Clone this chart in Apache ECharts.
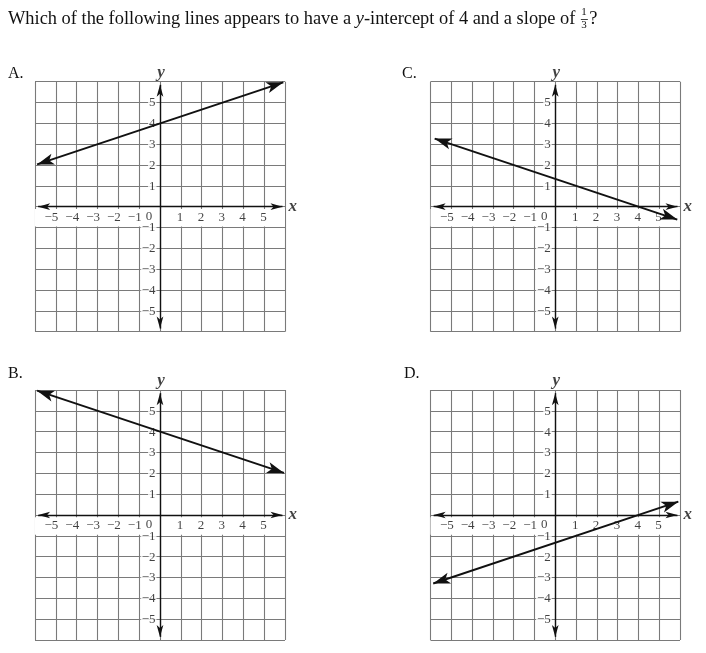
<!DOCTYPE html>
<html><head><meta charset="utf-8">
<script src="https://cdn.jsdelivr.net/npm/echarts@6/dist/echarts.min.js"></script>
<style>html,body{margin:0;padding:0;background:#fff}#c{width:706px;height:653px}</style>
</head><body><div id="c"></div>
<script>
// ---- data ----
const questionPre = 'Which of the following lines appears to have a ';
const questionVar = 'y';
const questionPost = '-intercept of 4 and a slope of';
const fracNum = '1', fracDen = '3';
const panelLabels = ['A.', 'B.', 'C.', 'D.'];
const xTickLabels = [-5, -4, -3, -2, -1, 1, 2, 3, 4, 5];
const yTickLabels = [5, 4, 3, 2, 1, -1, -2, -3, -4, -5];
const originLabel = '0';
const axisMin = -6, axisMax = 6, axisStep = 1;
// arrow tips of each plotted line [x, y]
const lineA = [[-5.9, 2.03], [5.92, 5.97]];
const lineB = [[-5.9, 5.97], [5.95, 2.02]];
const lineC = [[-5.8, 3.27], [5.87, -0.62]];
const lineD = [[-5.87, -3.29], [5.92, 0.64]];
// arrow tips of the drawn axes
const xAxisTips = [[-5.85, 0], [5.88, 0]];
const yAxisTips = [[0, -5.85], [0, 5.85]];

// ---- layout ----
const FONT = "'Liberation Serif','Times New Roman',serif";
const panelLines = [lineA, lineB, lineC, lineD];
const grids = [
  {left: 35, top: 81.7, width: 250, height: 250},
  {left: 35, top: 390, width: 250, height: 250},
  {left: 430.5, top: 81.7, width: 249.5, height: 250},
  {left: 430.5, top: 390, width: 249.5, height: 250}
];
const letterPos = [[8, 66], [8, 366], [402, 66], [404, 366]];
const fmt = v => (v < 0 ? '\u2212' + Math.abs(v) : String(v));
const AX_ARROW = [5, 12], LN_ARROW = [8.5, 17];
const seg = (p, q, size) => [{coord: p, symbol: 'arrow', symbolSize: size}, {coord: q, symbol: 'arrow', symbolSize: size}];

const chart = echarts.init(document.getElementById('c'), null, {renderer: 'canvas'});

const xAxes = [], yAxes = [], series = [];
grids.forEach((g, i) => {
  const ax = {
    gridIndex: i, type: 'value', min: axisMin, max: axisMax, interval: axisStep,
    axisLine: {show: false}, axisTick: {show: false}, axisLabel: {show: false},
    splitLine: {show: true, showMinLine: true, showMaxLine: true, lineStyle: {color: '#7a7a7a', width: 1.1}}
  };
  xAxes.push(Object.assign({}, ax));
  yAxes.push(Object.assign({}, ax));
  // white band behind x tick labels
  series.push({
    type: 'line', xAxisIndex: i, yAxisIndex: i, data: [], silent: true, z: 1, animation: false,
    markArea: {silent: true, animation: false, itemStyle: {color: '#ffffff'},
      data: [[{coord: [axisMin, -0.11]}, {coord: [axisMax, -0.95]}]]}
  });
  // axes with arrows
  series.push({
    type: 'line', xAxisIndex: i, yAxisIndex: i, data: [], silent: true, z: 3, animation: false,
    markLine: {
      silent: true, animation: false, symbol: 'arrow', symbolSize: 10,
      label: {show: false}, emphasis: {disabled: true},
      itemStyle: {color: '#111'},
      lineStyle: {color: '#111', width: 1.4, type: 'solid'},
      data: [seg(xAxisTips[0], xAxisTips[1], AX_ARROW), seg(yAxisTips[0], yAxisTips[1], AX_ARROW)]
    }
  });
  // tick labels
  const base = {show: true, position: 'inside', fontFamily: FONT, fontSize: 13, color: '#111'};
  const data = [];
  xTickLabels.forEach(v => data.push({value: [v, 0], label: Object.assign({}, base, {
    formatter: fmt(v), align: 'right', verticalAlign: 'middle', offset: [2.5, 11]})}));
  yTickLabels.forEach(v => data.push({value: [0, v], label: Object.assign({}, base, {
    formatter: fmt(v), align: 'right', verticalAlign: 'middle', offset: [-3.5, 0.5],
    backgroundColor: '#ffffff', padding: [0, 1]})}));
  data.push({value: [0, 0], label: Object.assign({}, base, {
    formatter: originLabel, align: 'center', verticalAlign: 'middle', offset: [-11, 9.5]})});
  data.push({value: [axisMax, 0], label: Object.assign({}, base, {
    formatter: 'x', fontSize: 17, fontStyle: 'italic', fontWeight: 'bold',
    align: 'left', verticalAlign: 'middle', offset: [3.5, 0]})});
  data.push({value: [0, axisMax], label: Object.assign({}, base, {
    formatter: 'y', fontSize: 17, fontStyle: 'italic', fontWeight: 'bold',
    align: 'center', verticalAlign: 'middle', offset: [1, -9]})});
  series.push({
    type: 'scatter', xAxisIndex: i, yAxisIndex: i, silent: true, z: 4, clip: false,
    symbolSize: 0, animation: false, data: data
  });
  // the plotted line
  const ln = panelLines[i];
  series.push({
    type: 'line', xAxisIndex: i, yAxisIndex: i, data: [], silent: true, z: 5, animation: false,
    markLine: {
      silent: true, animation: false, symbol: 'arrow', symbolSize: 10,
      label: {show: false}, emphasis: {disabled: true},
      itemStyle: {color: '#111'},
      lineStyle: {color: '#111', width: 2, type: 'solid'},
      data: [seg(ln[0], ln[1], LN_ARROW)]
    }
  });
});

// measure title to place the stacked fraction
const cv = document.createElement('canvas').getContext('2d');
const TS = 18.4;
cv.font = TS + 'px ' + FONT;
let w = cv.measureText(questionPre).width + cv.measureText(questionPost).width;
cv.font = 'italic ' + TS + 'px ' + FONT;
w += cv.measureText(questionVar).width;
const titleLeft = 8, titleTop = 10;
const fx = titleLeft + w + 6;

const titles = [{
  left: titleLeft, top: titleTop, padding: 0,
  text: questionPre + '{i|' + questionVar + '}' + questionPost,
  textStyle: {fontFamily: FONT, fontSize: TS, fontWeight: 'normal', color: '#111',
    rich: {i: {fontFamily: FONT, fontSize: TS, fontStyle: 'italic', color: '#111'}}}
}];
panelLabels.forEach((t, i) => titles.push({
  left: letterPos[i][0], top: letterPos[i][1], padding: 0, text: t,
  textStyle: {fontFamily: FONT, fontSize: 16, fontWeight: 'normal', color: '#111'}
}));

chart.setOption({
  backgroundColor: '#ffffff',
  animation: false,
  title: titles,
  grid: grids.map(g => Object.assign({show: false, containLabel: false}, g)),
  xAxis: xAxes,
  yAxis: yAxes,
  series: series,
  graphic: [
    {type: 'text', left: fx, top: titleTop - 3, style: {text: fracNum, font: '11px ' + FONT, fill: '#111'}},
    {type: 'line', shape: {x1: fx - 0.5, y1: titleTop + 9.5, x2: fx + 6.5, y2: titleTop + 9.5}, style: {stroke: '#111', lineWidth: 0.8}},
    {type: 'text', left: fx, top: titleTop + 10, style: {text: fracDen, font: '11px ' + FONT, fill: '#111'}},
    {type: 'text', left: fx + 8, top: titleTop, style: {text: '?', font: TS + 'px ' + FONT, fill: '#111'}}
  ]
});
</script>
</body></html>
